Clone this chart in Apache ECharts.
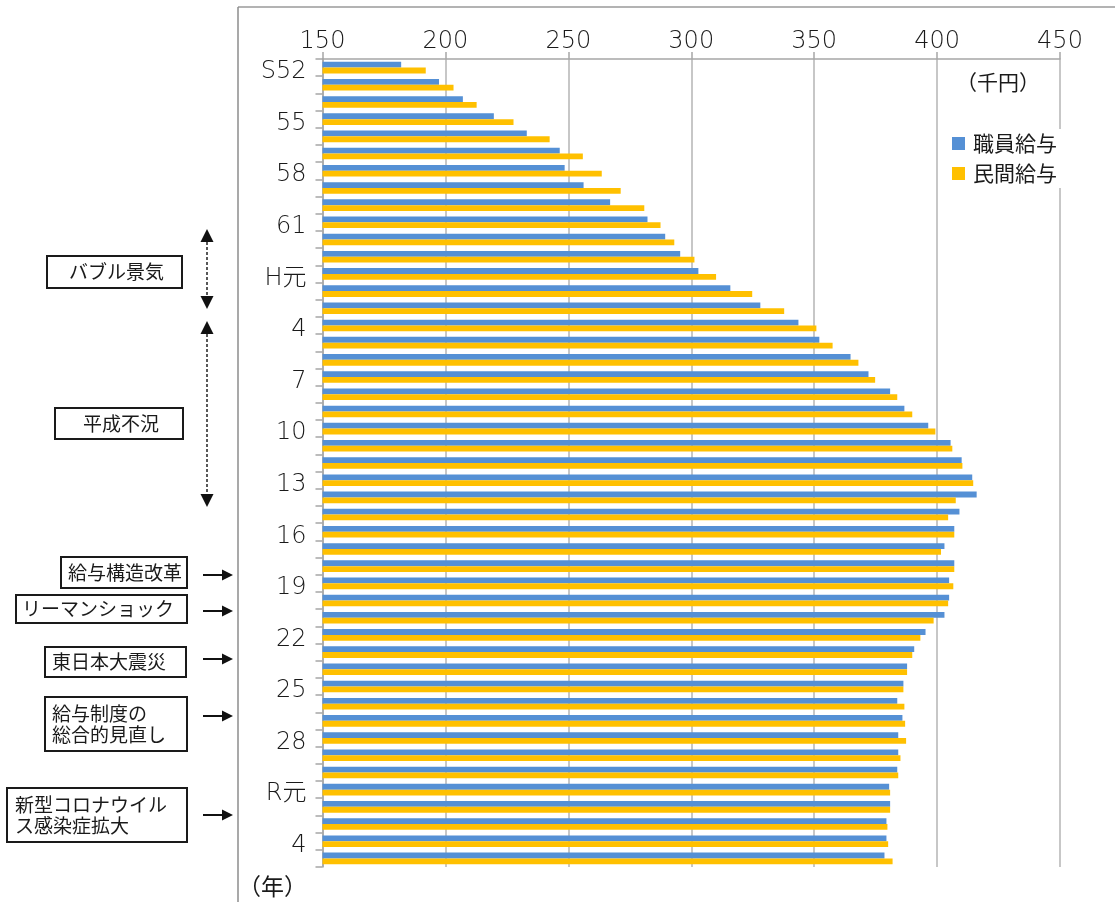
<!DOCTYPE html>
<html>
<head>
<meta charset="utf-8">
<script src="https://cdn.jsdelivr.net/npm/echarts@6/dist/echarts.min.js"></script>
<style>
  html, body { margin: 0; padding: 0; background: #fff; }
  #chart { width: 1115px; height: 902px; }
</style>
</head>
<body>
<div id="chart"></div>
<script>
// 年（和暦）: S52〜R5
const categories = [
  'S52', '53', '54', '55', '56', '57', '58', '59', '60', '61', '62', '63',
  'H元', '2', '3', '4', '5', '6', '7', '8', '9', '10', '11', '12', '13', '14', '15',
  '16', '17', '18', '19', '20', '21', '22', '23', '24', '25', '26', '27', '28', '29', '30',
  'R元', '2', '3', '4', '5'
];

// 職員給与（千円）
const staffPay = [
  182.0, 197.4, 207.1, 219.7, 233.1, 246.5, 248.5, 256.2, 267.0, 282.2, 289.4, 295.5,
  302.9, 315.9, 328.1, 343.6, 352.1, 364.8, 372.1, 380.9, 386.7, 396.4, 405.5, 410.0, 414.3, 416.1, 409.1,
  407.0, 403.0, 407.0, 404.9, 404.9, 403.0, 395.3, 390.7, 387.8, 386.3, 383.8, 385.9, 384.2, 384.2, 383.8,
  380.5, 380.9, 379.4, 379.4, 378.6
];

// 民間給与（千円）
const privatePay = [
  192.0, 203.3, 212.7, 227.7, 242.4, 255.9, 263.6, 271.3, 280.9, 287.5, 293.1, 301.3,
  310.1, 324.8, 337.8, 350.9, 357.5, 368.0, 374.8, 383.8, 389.9, 399.3, 406.2, 410.3, 414.7, 407.6, 404.5,
  407.0, 401.6, 407.0, 406.6, 404.5, 398.6, 393.2, 389.9, 387.8, 386.3, 386.7, 387.0, 387.4, 385.1, 384.2,
  380.9, 380.9, 379.8, 380.1, 381.9
];

// 目盛
const valueMin = 150;
const valueMax = 450;
const valueStep = 50;

const seriesNames = ['職員給与', '民間給与'];
const unitLabel = '（千円）';
const yearLabel = '（年）';

const FONT = '"Noto Sans CJK JP", "Noto Sans", sans-serif';
const NUM_FONT = '"DejaVu Sans", "Noto Sans CJK JP", sans-serif';
const AXIS_COLOR = '#a6a6a6';
const TEXT_COLOR = '#1a1a1a';

// 注記ボックス（枠＋文字）
function noteBox(x, y, w, h, lines, opts) {
  const o = opts || {};
  const els = [{
    type: 'rect',
    shape: { x: x, y: y, width: w, height: h },
    style: { fill: '#fff', stroke: '#1a1a1a', lineWidth: 2 },
    z: 10
  }];
  const lh = 21;
  const startY = y + h / 2 - (lines.length - 1) * lh / 2;
  lines.forEach(function (t, i) {
    els.push({
      type: 'text',
      x: o.center ? x + w / 2 + (o.dx || 0) : x + (o.pad || 7),
      y: startY + i * lh,
      style: {
        text: t,
        font: '19px ' + FONT,
        fill: TEXT_COLOR,
        align: o.center ? 'center' : 'left',
        verticalAlign: 'middle'
      },
      z: 11
    });
  });
  return els;
}

// 右向き矢印
function rightArrow(y) {
  return [
    { type: 'line', shape: { x1: 203, y1: y, x2: 224, y2: y },
      style: { stroke: '#111', lineWidth: 2 }, z: 10 },
    { type: 'polygon', shape: { points: [[222, y - 5.5], [233, y], [222, y + 5.5]] },
      style: { fill: '#111' }, z: 10 }
  ];
}

// 期間を示す上下両向きの点線矢印
function spanArrow(x, yTop, yBottom) {
  const head = 13;
  return [
    { type: 'line', shape: { x1: x, y1: yTop + head, x2: x, y2: yBottom - head },
      style: { stroke: '#222', lineWidth: 1.5, lineDash: [3, 2] }, z: 10 },
    { type: 'polygon', shape: { points: [[x, yTop], [x + 6.5, yTop + head], [x - 6.5, yTop + head]] },
      style: { fill: '#111' }, z: 10 },
    { type: 'polygon', shape: { points: [[x, yBottom], [x + 6.5, yBottom - head], [x - 6.5, yBottom - head]] },
      style: { fill: '#111' }, z: 10 }
  ];
}

const graphics = [].concat(
  // 図の外枠
  [
    { type: 'line', shape: { x1: 238, y1: 7, x2: 1115, y2: 7 },
      style: { stroke: '#9a9a9a', lineWidth: 1.5 } },
    { type: 'line', shape: { x1: 238, y1: 7, x2: 238, y2: 902 },
      style: { stroke: '#8c8c8c', lineWidth: 1.5 } }
  ],
  [
    { type: 'text', x: 956, y: 82,
      style: { text: unitLabel, font: '21px ' + FONT, fill: TEXT_COLOR, align: 'left', verticalAlign: 'middle' } },
    { type: 'text', x: 238, y: 886,
      style: { text: yearLabel, font: '23px ' + FONT, fill: TEXT_COLOR, align: 'left', verticalAlign: 'middle' } }
  ],
  spanArrow(207, 229, 309),
  spanArrow(207, 321, 507),
  noteBox(47, 256, 135, 32, ['バブル景気'], { center: true, dx: 2 }),
  noteBox(55, 408, 128, 31, ['平成不況'], { center: true, dx: 2 }),
  noteBox(61, 557, 126, 31, ['給与構造改革']),
  noteBox(16, 595, 171, 28, ['リーマンショック'], { pad: 6 }),
  noteBox(45, 647, 141, 30, ['東日本大震災']),
  noteBox(45, 697, 142, 54, ['給与制度の', '総合的見直し']),
  noteBox(7, 788, 180, 54, ['新型コロナウイル', 'ス感染症拡大'], { pad: 8 }),
  rightArrow(575),
  rightArrow(611),
  rightArrow(659),
  rightArrow(716),
  rightArrow(815)
);

const chart = echarts.init(document.getElementById('chart'), null, { renderer: 'canvas' });

chart.setOption({
  animation: false,
  backgroundColor: '#fff',
  textStyle: { fontFamily: FONT },
  grid: { left: 322.5, top: 59, right: 55, bottom: 35, containLabel: false },
  xAxis: {
    type: 'value',
    position: 'top',
    min: valueMin,
    max: valueMax,
    interval: valueStep,
    axisLine: { show: true, lineStyle: { color: AXIS_COLOR, width: 1.5 } },
    axisTick: { show: true, length: 7, lineStyle: { color: AXIS_COLOR, width: 1.5 } },
    axisLabel: { color: TEXT_COLOR, fontSize: 24, margin: 5, fontFamily: NUM_FONT, fontWeight: 200 },
    splitLine: { show: true, lineStyle: { color: '#b4b4b4', width: 1.5 } }
  },
  yAxis: {
    type: 'category',
    inverse: true,
    data: categories,
    axisLine: { show: true, lineStyle: { color: AXIS_COLOR, width: 1.5 } },
    axisTick: { show: true, length: 7, interval: 0, lineStyle: { color: AXIS_COLOR, width: 1.5 } },
    axisLabel: {
      interval: 2, color: TEXT_COLOR, fontSize: 24, margin: 16,
      fontFamily: NUM_FONT, fontWeight: 200,
      verticalAlign: 'top', lineHeight: 9
    },
    splitLine: { show: false }
  },
  legend: {
    orient: 'vertical',
    left: 948,
    top: 129,
    padding: 4,
    backgroundColor: '#fff',
    itemWidth: 13,
    itemHeight: 13,
    itemGap: 9,
    icon: 'rect',
    data: seriesNames,
    textStyle: { fontSize: 21, color: TEXT_COLOR, padding: [0, 0, 0, 3], fontFamily: FONT }
  },
  series: [
    {
      name: seriesNames[0],
      type: 'bar',
      data: staffPay,
      barWidth: 5.8,
      barGap: '0%',
      itemStyle: { color: '#5590D5' }
    },
    {
      name: seriesNames[1],
      type: 'bar',
      data: privatePay,
      barWidth: 5.8,
      barGap: '0%',
      itemStyle: { color: '#FFC000' }
    }
  ],
  graphic: graphics
});
</script>
</body>
</html>
